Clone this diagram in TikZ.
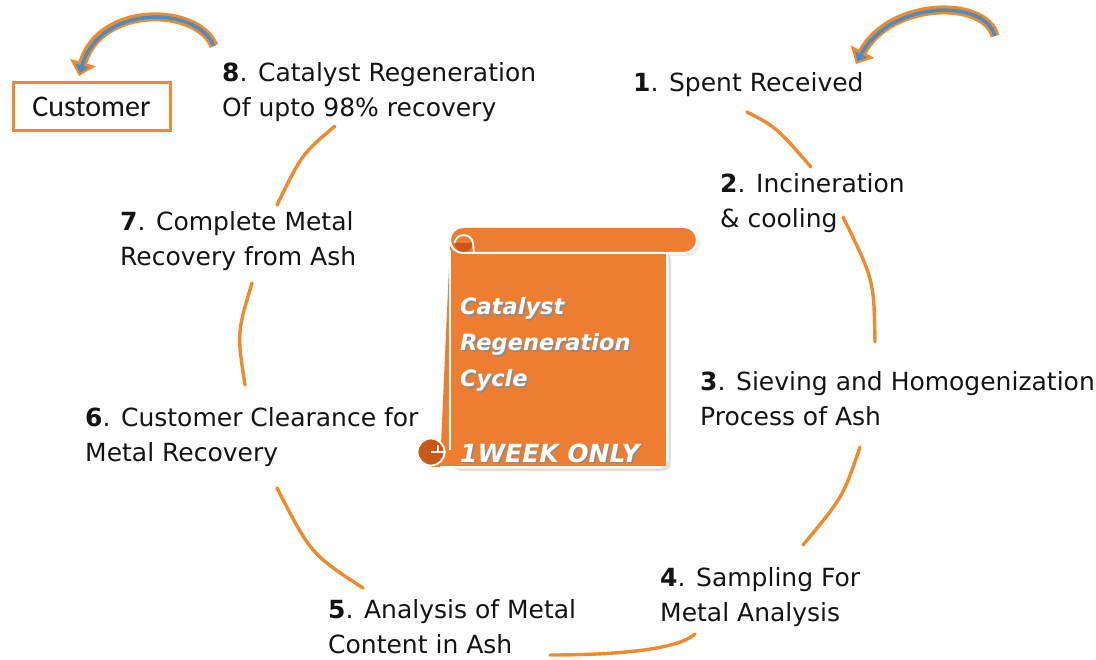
\documentclass[tikz,border=0pt]{standalone}
\usepackage{fontspec}
\setmainfont{DejaVu Sans}
\newfontfamily\custfont{Carlito}
\usetikzlibrary{arrows.meta}
\definecolor{orng}{HTML}{ED7D31}
\definecolor{lineor}{HTML}{F08A2C}
\definecolor{darkor}{HTML}{C8581A}
\definecolor{arblue}{HTML}{4A8CC8}
\definecolor{txt}{HTML}{141414}
\newcommand{\twolines}[2]{\vtop{\hbox{#1}\hbox{#2}}}
\tikzset{
  lbl/.style={anchor=base west, inner sep=0pt, text=txt, font=\fontsize{25}{35}\selectfont},
  conn/.style={draw=lineor, line width=3.4pt, line cap=round},
  scrolltxt/.style={anchor=base west, inner sep=0pt, text=white, font=\fontsize{22.5}{36}\selectfont\bfseries\itshape},
  scrollshadow/.style={anchor=base west, inner sep=0pt, text=black!45, font=\fontsize{22.5}{36}\selectfont\bfseries\itshape},
  arrowout/.style={draw=lineor, line width=9pt, -{Triangle[length=14pt,width=26pt]}},
  arrowin/.style={draw=arblue, line width=3.5pt, shorten >=3pt, -{Triangle[length=8pt,width=13pt]}}
}
\begin{document}
\begin{tikzpicture}[x=1pt,y=-1pt]
\useasboundingbox (0,0) rectangle (1096,660);

% ---------- labels ----------
\node[lbl] (n1) at (633,92) {\textbf{1}. Spent Received};
\node[lbl] (n2) at (720,193) {\twolines{\textbf{2}. Incineration}{\& cooling}};
\node[lbl] (n3) at (700,391) {\twolines{\textbf{3}. Sieving and Homogenization}{Process of Ash}};
\node[lbl] (n4) at (660,586) {\twolines{\textbf{4}. Sampling For}{Metal Analysis}};
\node[lbl] (n5) at (328,618) {\twolines{\textbf{5}. Analysis of Metal}{Content in Ash}};
\node[lbl] (n6) at (85,427) {\twolines{\textbf{6}. Customer Clearance for}{Metal Recovery}};
\node[lbl] (n7) at (120,231) {\twolines{\textbf{7}. Complete Metal}{Recovery from Ash}};
\node[lbl] (n8) at (222,82) {\twolines{\textbf{8}. Catalyst Regeneration}{Of upto 98\% recovery}};

\node[draw=lineor, line width=3pt, minimum width=157pt, minimum height=48pt, inner sep=0pt,
      text=txt, font=\custfont\fontsize{30}{34}\selectfont] (cust) at (91.5,107) {Customer};

% ---------- connector end points ----------
\coordinate (a12) at (747,112);  \coordinate (b12) at (811,167);
\coordinate (a23) at (843,217);  \coordinate (b23) at (875,342);
\coordinate (a34) at (860,447);  \coordinate (b34) at (803,545);
\coordinate (a45) at (695,634);  \coordinate (b45) at (550,655);
\coordinate (a65) at (277,488);  \coordinate (b65) at (363,588);
\coordinate (a76) at (252,283);  \coordinate (b76) at (245,385);
\coordinate (a87) at (335,126);  \coordinate (b87) at (277,205);

\draw[conn] (a12) .. controls (776,127) .. (b12);
\draw[conn] (a23) .. controls (874,280) .. (b23);
\draw[conn] (a34) .. controls (843,497) .. (b34);
\draw[conn] (a45) .. controls (675,652) and (600,655) .. (b45);
\draw[conn] (a65) .. controls (311,554) .. (b65);
\draw[conn] (a76) .. controls (237,333) .. (b76);
\draw[conn] (a87) .. controls (302,154) .. (b87);

% ---------- curved arrows at top ----------
\coordinate (tl) at (214,46);  \coordinate (hl) at (79,76);
\coordinate (tr) at (995,36);  \coordinate (hr) at (856,64);
\draw[arrowout] (tl) .. controls (198,6) and (100,3) .. (hl);
\draw[arrowin]  (tl) .. controls (198,6) and (100,3) .. (hl);
\draw[arrowout] (tr) .. controls (985,-2) and (890,0) .. (hr);
\draw[arrowin]  (tr) .. controls (985,-2) and (890,0) .. (hr);

% ---------- scroll ----------
% soft shadow
\fill[black!12, rounded corners=8pt] (453,252) rectangle (671,471);
\fill[black!8] (466,230) -- (687,230) arc[start angle=-90,end angle=90,radius=13] -- (466,256) -- cycle;
% body
\fill[orng] (431,452) rectangle (452,467);
\path[fill=orng, draw=white, line width=2pt, rounded corners=8pt]
  (450,245) -- (667,245) -- (667,467) -- (440,467);
\fill[orng] (450,245) rectangle (666,466);
\draw[white, line width=1.5pt] (450,250) -- (450,450);
% top roll
\path[fill=orng, draw=white, line width=2pt] (463,227) -- (684,227)
  arc[start angle=-90,end angle=90,radius=13] -- (463,253)
  arc[start angle=90,end angle=270,radius=13] -- cycle;
% top curl
\fill[darkor] (454.5,243) arc[start angle=180,end angle=0,radius=9] -- cycle;
\draw[white, line width=1.8pt] (454.5,243) .. controls (456,233) and (471,232) .. (473,243) -- (474,253);
% bottom curl
\fill[darkor, draw=white, line width=1.8pt] (431,452) circle[radius=13.5];
\draw[white, line width=1.6pt] (431,452) -- (446,452);
\draw[white, line width=1.3pt] (438,452) -- (438,445);

% scroll text
\foreach \dx/\st in {1.6/scrollshadow, 0/scrolltxt}{
  \node[\st] at (460+\dx,315+\dx) {Catalyst};
  \node[\st] at (460+\dx,351+\dx) {Regeneration};
  \node[\st] at (460+\dx,387+\dx) {Cycle};
}
\node[scrollshadow, font=\fontsize{25}{30}\selectfont\bfseries\itshape] at (461.6,463.6) {1WEEK ONLY};
\node[scrolltxt, font=\fontsize{25}{30}\selectfont\bfseries\itshape] (wk) at (460,462) {1WEEK ONLY};
\end{tikzpicture}
\end{document}
